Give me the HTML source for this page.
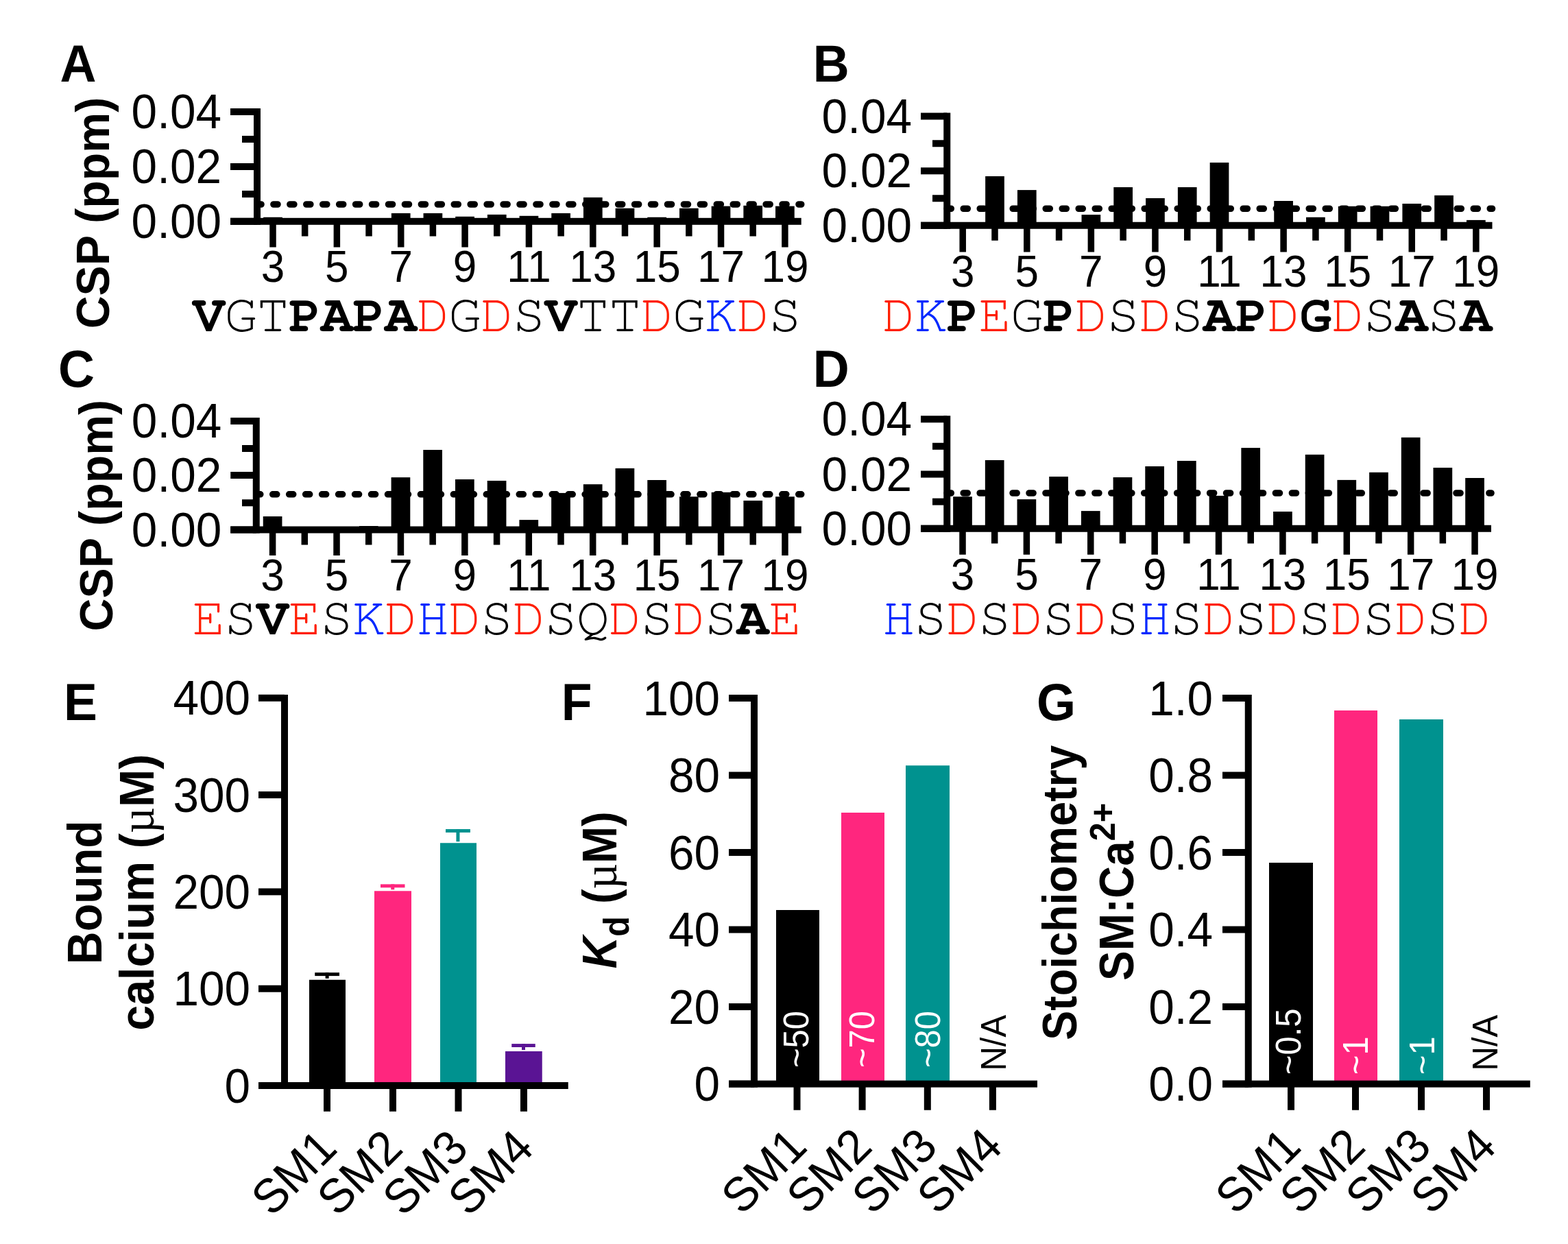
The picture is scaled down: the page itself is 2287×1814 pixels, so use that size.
<!DOCTYPE html>
<html><head><meta charset="utf-8"><title>Figure</title>
<style>html,body{margin:0;padding:0;background:#fff;} svg{display:block;}</style>
</head><body>
<svg width="2287" height="1814" viewBox="0 0 2287 1814">
<rect x="0" y="0" width="2287" height="1814" fill="#fff"/>
<rect x="384.15" y="316.75" width="27.70" height="6.05" fill="#000"/>
<rect x="570.87" y="310.90" width="27.70" height="11.90" fill="#000"/>
<rect x="617.55" y="310.90" width="27.70" height="11.90" fill="#000"/>
<rect x="664.23" y="315.80" width="27.70" height="7.00" fill="#000"/>
<rect x="710.91" y="312.90" width="27.70" height="9.90" fill="#000"/>
<rect x="757.59" y="314.80" width="27.70" height="8.00" fill="#000"/>
<rect x="804.27" y="310.90" width="27.70" height="11.90" fill="#000"/>
<rect x="850.95" y="287.90" width="27.70" height="34.90" fill="#000"/>
<rect x="897.63" y="303.70" width="27.70" height="19.10" fill="#000"/>
<rect x="944.31" y="316.75" width="27.70" height="6.05" fill="#000"/>
<rect x="990.99" y="303.70" width="27.70" height="19.10" fill="#000"/>
<rect x="1037.67" y="300.60" width="27.70" height="22.20" fill="#000"/>
<rect x="1084.35" y="299.80" width="27.70" height="23.00" fill="#000"/>
<rect x="1131.03" y="300.60" width="27.70" height="22.20" fill="#000"/>
<line x1="375.00" y1="298.00" x2="1168.70" y2="298.00" stroke="#000" stroke-width="9.6" stroke-linecap="round" stroke-dasharray="6 17.94"/>
<rect x="370.00" y="158.00" width="10.00" height="169.80" fill="#000"/>
<rect x="336.00" y="317.80" width="39.00" height="10.00" fill="#000"/>
<rect x="353.00" y="278.00" width="22.00" height="10.00" fill="#000"/>
<rect x="336.00" y="238.00" width="39.00" height="10.00" fill="#000"/>
<rect x="353.00" y="198.00" width="22.00" height="10.00" fill="#000"/>
<rect x="336.00" y="158.00" width="39.00" height="10.00" fill="#000"/>
<rect x="336.00" y="317.80" width="832.70" height="10.00" fill="#000"/>
<rect x="393.25" y="322.80" width="9.50" height="37.70" fill="#000"/>
<rect x="439.93" y="322.80" width="9.50" height="21.70" fill="#000"/>
<rect x="486.61" y="322.80" width="9.50" height="37.70" fill="#000"/>
<rect x="533.29" y="322.80" width="9.50" height="21.70" fill="#000"/>
<rect x="579.97" y="322.80" width="9.50" height="37.70" fill="#000"/>
<rect x="626.65" y="322.80" width="9.50" height="21.70" fill="#000"/>
<rect x="673.33" y="322.80" width="9.50" height="37.70" fill="#000"/>
<rect x="720.01" y="322.80" width="9.50" height="21.70" fill="#000"/>
<rect x="766.69" y="322.80" width="9.50" height="37.70" fill="#000"/>
<rect x="813.37" y="322.80" width="9.50" height="21.70" fill="#000"/>
<rect x="860.05" y="322.80" width="9.50" height="37.70" fill="#000"/>
<rect x="906.73" y="322.80" width="9.50" height="21.70" fill="#000"/>
<rect x="953.41" y="322.80" width="9.50" height="37.70" fill="#000"/>
<rect x="1000.09" y="322.80" width="9.50" height="21.70" fill="#000"/>
<rect x="1046.77" y="322.80" width="9.50" height="37.70" fill="#000"/>
<rect x="1093.45" y="322.80" width="9.50" height="21.70" fill="#000"/>
<rect x="1140.13" y="322.80" width="9.50" height="37.70" fill="#000"/>
<text transform="translate(323.00,347.00) scale(1,1.04)" font-family="'Liberation Sans', Arial, sans-serif" font-size="67.5" font-weight="normal" font-style="normal" text-anchor="end" fill="#000">0.00</text>
<text transform="translate(323.00,267.20) scale(1,1.04)" font-family="'Liberation Sans', Arial, sans-serif" font-size="67.5" font-weight="normal" font-style="normal" text-anchor="end" fill="#000">0.02</text>
<text transform="translate(323.00,187.20) scale(1,1.04)" font-family="'Liberation Sans', Arial, sans-serif" font-size="67.5" font-weight="normal" font-style="normal" text-anchor="end" fill="#000">0.04</text>
<text transform="translate(398.00,411.20) scale(1,1.04)" font-family="'Liberation Sans', Arial, sans-serif" font-size="62" font-weight="normal" font-style="normal" text-anchor="middle" fill="#000">3</text>
<text transform="translate(491.36,411.20) scale(1,1.04)" font-family="'Liberation Sans', Arial, sans-serif" font-size="62" font-weight="normal" font-style="normal" text-anchor="middle" fill="#000">5</text>
<text transform="translate(584.72,411.20) scale(1,1.04)" font-family="'Liberation Sans', Arial, sans-serif" font-size="62" font-weight="normal" font-style="normal" text-anchor="middle" fill="#000">7</text>
<text transform="translate(678.08,411.20) scale(1,1.04)" font-family="'Liberation Sans', Arial, sans-serif" font-size="62" font-weight="normal" font-style="normal" text-anchor="middle" fill="#000">9</text>
<text transform="translate(771.44,411.20) scale(1,1.04)" font-family="'Liberation Sans', Arial, sans-serif" font-size="62" font-weight="normal" font-style="normal" text-anchor="middle" fill="#000">11</text>
<text transform="translate(864.80,411.20) scale(1,1.04)" font-family="'Liberation Sans', Arial, sans-serif" font-size="62" font-weight="normal" font-style="normal" text-anchor="middle" fill="#000">13</text>
<text transform="translate(958.16,411.20) scale(1,1.04)" font-family="'Liberation Sans', Arial, sans-serif" font-size="62" font-weight="normal" font-style="normal" text-anchor="middle" fill="#000">15</text>
<text transform="translate(1051.52,411.20) scale(1,1.04)" font-family="'Liberation Sans', Arial, sans-serif" font-size="62" font-weight="normal" font-style="normal" text-anchor="middle" fill="#000">17</text>
<text transform="translate(1144.88,411.20) scale(1,1.04)" font-family="'Liberation Sans', Arial, sans-serif" font-size="62" font-weight="normal" font-style="normal" text-anchor="middle" fill="#000">19</text>
<text transform="translate(158.80,310.50) rotate(-90) scale(1,1.04)" font-family="'Liberation Sans', Arial, sans-serif" font-size="66.3" font-weight="bold" font-style="normal" text-anchor="middle" fill="#000">CSP (ppm)</text>
<text transform="translate(87.40,118.75) scale(1,1.04)" font-family="'Liberation Sans', Arial, sans-serif" font-size="73.3" font-weight="bold" font-style="normal" text-anchor="start" fill="#000">A</text>
<text x="304.64 351.32 398.00 444.68 491.36 538.04 584.72 631.40 678.08 724.76 771.44 818.12 864.80 911.48 958.16 1004.84 1051.52 1098.20 1144.88" y="482.50" font-family="'TeX Gyre Cursor', 'Liberation Mono', 'Courier New', monospace" font-size="79" text-anchor="middle" style="font-size-adjust:cap-height 0.57"><tspan fill="#000" font-weight="bold">V</tspan><tspan fill="#000" font-weight="normal">G</tspan><tspan fill="#000" font-weight="normal">T</tspan><tspan fill="#000" font-weight="bold">P</tspan><tspan fill="#000" font-weight="bold">A</tspan><tspan fill="#000" font-weight="bold">P</tspan><tspan fill="#000" font-weight="bold">A</tspan><tspan fill="#FF1E00" font-weight="normal">D</tspan><tspan fill="#000" font-weight="normal">G</tspan><tspan fill="#FF1E00" font-weight="normal">D</tspan><tspan fill="#000" font-weight="normal">S</tspan><tspan fill="#000" font-weight="bold">V</tspan><tspan fill="#000" font-weight="normal">T</tspan><tspan fill="#000" font-weight="normal">T</tspan><tspan fill="#FF1E00" font-weight="normal">D</tspan><tspan fill="#000" font-weight="normal">G</tspan><tspan fill="#0028FF" font-weight="normal">K</tspan><tspan fill="#FF1E00" font-weight="normal">D</tspan><tspan fill="#000" font-weight="normal">S</tspan></text>
<rect x="1437.14" y="257.00" width="27.70" height="71.75" fill="#000"/>
<rect x="1483.93" y="277.10" width="27.70" height="51.65" fill="#000"/>
<rect x="1577.51" y="313.10" width="27.70" height="15.65" fill="#000"/>
<rect x="1624.30" y="273.00" width="27.70" height="55.75" fill="#000"/>
<rect x="1671.09" y="289.00" width="27.70" height="39.75" fill="#000"/>
<rect x="1717.88" y="273.00" width="27.70" height="55.75" fill="#000"/>
<rect x="1764.67" y="237.10" width="27.70" height="91.65" fill="#000"/>
<rect x="1858.25" y="293.00" width="27.70" height="35.75" fill="#000"/>
<rect x="1905.04" y="316.80" width="27.70" height="11.95" fill="#000"/>
<rect x="1951.83" y="300.80" width="27.70" height="27.95" fill="#000"/>
<rect x="1998.62" y="300.80" width="27.70" height="27.95" fill="#000"/>
<rect x="2045.41" y="297.00" width="27.70" height="31.75" fill="#000"/>
<rect x="2092.20" y="284.90" width="27.70" height="43.85" fill="#000"/>
<rect x="2138.99" y="320.90" width="27.70" height="7.85" fill="#000"/>
<line x1="1381.25" y1="304.25" x2="2176.50" y2="304.25" stroke="#000" stroke-width="9.6" stroke-linecap="round" stroke-dasharray="6 18.00"/>
<rect x="1376.25" y="164.50" width="10.00" height="169.25" fill="#000"/>
<rect x="1343.00" y="323.75" width="38.25" height="10.00" fill="#000"/>
<rect x="1360.00" y="284.25" width="21.25" height="10.00" fill="#000"/>
<rect x="1343.00" y="244.25" width="38.25" height="10.00" fill="#000"/>
<rect x="1360.00" y="204.25" width="21.25" height="10.00" fill="#000"/>
<rect x="1343.00" y="164.50" width="38.25" height="10.00" fill="#000"/>
<rect x="1343.00" y="323.75" width="833.50" height="10.00" fill="#000"/>
<rect x="1399.45" y="328.75" width="9.50" height="38.75" fill="#000"/>
<rect x="1446.24" y="328.75" width="9.50" height="22.00" fill="#000"/>
<rect x="1493.03" y="328.75" width="9.50" height="38.75" fill="#000"/>
<rect x="1539.82" y="328.75" width="9.50" height="22.00" fill="#000"/>
<rect x="1586.61" y="328.75" width="9.50" height="38.75" fill="#000"/>
<rect x="1633.40" y="328.75" width="9.50" height="22.00" fill="#000"/>
<rect x="1680.19" y="328.75" width="9.50" height="38.75" fill="#000"/>
<rect x="1726.98" y="328.75" width="9.50" height="22.00" fill="#000"/>
<rect x="1773.77" y="328.75" width="9.50" height="38.75" fill="#000"/>
<rect x="1820.56" y="328.75" width="9.50" height="22.00" fill="#000"/>
<rect x="1867.35" y="328.75" width="9.50" height="38.75" fill="#000"/>
<rect x="1914.14" y="328.75" width="9.50" height="22.00" fill="#000"/>
<rect x="1960.93" y="328.75" width="9.50" height="38.75" fill="#000"/>
<rect x="2007.72" y="328.75" width="9.50" height="22.00" fill="#000"/>
<rect x="2054.51" y="328.75" width="9.50" height="38.75" fill="#000"/>
<rect x="2101.30" y="328.75" width="9.50" height="22.00" fill="#000"/>
<rect x="2148.09" y="328.75" width="9.50" height="38.75" fill="#000"/>
<text transform="translate(1330.00,352.95) scale(1,1.04)" font-family="'Liberation Sans', Arial, sans-serif" font-size="67.5" font-weight="normal" font-style="normal" text-anchor="end" fill="#000">0.00</text>
<text transform="translate(1330.00,273.45) scale(1,1.04)" font-family="'Liberation Sans', Arial, sans-serif" font-size="67.5" font-weight="normal" font-style="normal" text-anchor="end" fill="#000">0.02</text>
<text transform="translate(1330.00,193.70) scale(1,1.04)" font-family="'Liberation Sans', Arial, sans-serif" font-size="67.5" font-weight="normal" font-style="normal" text-anchor="end" fill="#000">0.04</text>
<text transform="translate(1404.20,418.20) scale(1,1.04)" font-family="'Liberation Sans', Arial, sans-serif" font-size="62" font-weight="normal" font-style="normal" text-anchor="middle" fill="#000">3</text>
<text transform="translate(1497.78,418.20) scale(1,1.04)" font-family="'Liberation Sans', Arial, sans-serif" font-size="62" font-weight="normal" font-style="normal" text-anchor="middle" fill="#000">5</text>
<text transform="translate(1591.36,418.20) scale(1,1.04)" font-family="'Liberation Sans', Arial, sans-serif" font-size="62" font-weight="normal" font-style="normal" text-anchor="middle" fill="#000">7</text>
<text transform="translate(1684.94,418.20) scale(1,1.04)" font-family="'Liberation Sans', Arial, sans-serif" font-size="62" font-weight="normal" font-style="normal" text-anchor="middle" fill="#000">9</text>
<text transform="translate(1778.52,418.20) scale(1,1.04)" font-family="'Liberation Sans', Arial, sans-serif" font-size="62" font-weight="normal" font-style="normal" text-anchor="middle" fill="#000">11</text>
<text transform="translate(1872.10,418.20) scale(1,1.04)" font-family="'Liberation Sans', Arial, sans-serif" font-size="62" font-weight="normal" font-style="normal" text-anchor="middle" fill="#000">13</text>
<text transform="translate(1965.68,418.20) scale(1,1.04)" font-family="'Liberation Sans', Arial, sans-serif" font-size="62" font-weight="normal" font-style="normal" text-anchor="middle" fill="#000">15</text>
<text transform="translate(2059.26,418.20) scale(1,1.04)" font-family="'Liberation Sans', Arial, sans-serif" font-size="62" font-weight="normal" font-style="normal" text-anchor="middle" fill="#000">17</text>
<text transform="translate(2152.84,418.20) scale(1,1.04)" font-family="'Liberation Sans', Arial, sans-serif" font-size="62" font-weight="normal" font-style="normal" text-anchor="middle" fill="#000">19</text>
<text transform="translate(1185.80,118.75) scale(1,1.04)" font-family="'Liberation Sans', Arial, sans-serif" font-size="73.3" font-weight="bold" font-style="normal" text-anchor="start" fill="#000">B</text>
<text x="1310.62 1357.41 1404.20 1450.99 1497.78 1544.57 1591.36 1638.15 1684.94 1731.73 1778.52 1825.31 1872.10 1918.89 1965.68 2012.47 2059.26 2106.05 2152.84" y="482.50" font-family="'TeX Gyre Cursor', 'Liberation Mono', 'Courier New', monospace" font-size="79" text-anchor="middle" style="font-size-adjust:cap-height 0.57"><tspan fill="#FF1E00" font-weight="normal">D</tspan><tspan fill="#0028FF" font-weight="normal">K</tspan><tspan fill="#000" font-weight="bold">P</tspan><tspan fill="#FF1E00" font-weight="normal">E</tspan><tspan fill="#000" font-weight="normal">G</tspan><tspan fill="#000" font-weight="bold">P</tspan><tspan fill="#FF1E00" font-weight="normal">D</tspan><tspan fill="#000" font-weight="normal">S</tspan><tspan fill="#FF1E00" font-weight="normal">D</tspan><tspan fill="#000" font-weight="normal">S</tspan><tspan fill="#000" font-weight="bold">A</tspan><tspan fill="#000" font-weight="bold">P</tspan><tspan fill="#FF1E00" font-weight="normal">D</tspan><tspan fill="#000" font-weight="bold">G</tspan><tspan fill="#FF1E00" font-weight="normal">D</tspan><tspan fill="#000" font-weight="normal">S</tspan><tspan fill="#000" font-weight="bold">A</tspan><tspan fill="#000" font-weight="normal">S</tspan><tspan fill="#000" font-weight="bold">A</tspan></text>
<rect x="383.75" y="753.00" width="27.70" height="19.50" fill="#000"/>
<rect x="523.88" y="767.00" width="27.70" height="5.50" fill="#000"/>
<rect x="570.59" y="696.10" width="27.70" height="76.40" fill="#000"/>
<rect x="617.30" y="656.00" width="27.70" height="116.50" fill="#000"/>
<rect x="664.01" y="699.00" width="27.70" height="73.50" fill="#000"/>
<rect x="710.72" y="701.00" width="27.70" height="71.50" fill="#000"/>
<rect x="757.43" y="758.10" width="27.70" height="14.40" fill="#000"/>
<rect x="804.14" y="718.90" width="27.70" height="53.60" fill="#000"/>
<rect x="850.85" y="706.20" width="27.70" height="66.30" fill="#000"/>
<rect x="897.56" y="682.90" width="27.70" height="89.60" fill="#000"/>
<rect x="944.27" y="700.00" width="27.70" height="72.50" fill="#000"/>
<rect x="990.98" y="724.20" width="27.70" height="48.30" fill="#000"/>
<rect x="1037.69" y="717.90" width="27.70" height="54.60" fill="#000"/>
<rect x="1084.40" y="730.00" width="27.70" height="42.50" fill="#000"/>
<rect x="1131.11" y="724.20" width="27.70" height="48.30" fill="#000"/>
<line x1="373.75" y1="720.80" x2="1168.70" y2="720.80" stroke="#000" stroke-width="9.6" stroke-linecap="round" stroke-dasharray="6 17.97"/>
<rect x="368.75" y="609.00" width="10.00" height="168.50" fill="#000"/>
<rect x="336.25" y="767.50" width="37.50" height="10.00" fill="#000"/>
<rect x="353.00" y="728.25" width="20.75" height="10.00" fill="#000"/>
<rect x="336.25" y="688.00" width="37.50" height="10.00" fill="#000"/>
<rect x="353.00" y="649.00" width="20.75" height="10.00" fill="#000"/>
<rect x="336.25" y="609.00" width="37.50" height="10.00" fill="#000"/>
<rect x="336.25" y="767.50" width="832.45" height="10.00" fill="#000"/>
<rect x="392.85" y="772.50" width="9.50" height="37.50" fill="#000"/>
<rect x="439.56" y="772.50" width="9.50" height="22.00" fill="#000"/>
<rect x="486.27" y="772.50" width="9.50" height="37.50" fill="#000"/>
<rect x="532.98" y="772.50" width="9.50" height="22.00" fill="#000"/>
<rect x="579.69" y="772.50" width="9.50" height="37.50" fill="#000"/>
<rect x="626.40" y="772.50" width="9.50" height="22.00" fill="#000"/>
<rect x="673.11" y="772.50" width="9.50" height="37.50" fill="#000"/>
<rect x="719.82" y="772.50" width="9.50" height="22.00" fill="#000"/>
<rect x="766.53" y="772.50" width="9.50" height="37.50" fill="#000"/>
<rect x="813.24" y="772.50" width="9.50" height="22.00" fill="#000"/>
<rect x="859.95" y="772.50" width="9.50" height="37.50" fill="#000"/>
<rect x="906.66" y="772.50" width="9.50" height="22.00" fill="#000"/>
<rect x="953.37" y="772.50" width="9.50" height="37.50" fill="#000"/>
<rect x="1000.08" y="772.50" width="9.50" height="22.00" fill="#000"/>
<rect x="1046.79" y="772.50" width="9.50" height="37.50" fill="#000"/>
<rect x="1093.50" y="772.50" width="9.50" height="22.00" fill="#000"/>
<rect x="1140.21" y="772.50" width="9.50" height="37.50" fill="#000"/>
<text transform="translate(323.25,796.70) scale(1,1.04)" font-family="'Liberation Sans', Arial, sans-serif" font-size="67.5" font-weight="normal" font-style="normal" text-anchor="end" fill="#000">0.00</text>
<text transform="translate(323.25,717.20) scale(1,1.04)" font-family="'Liberation Sans', Arial, sans-serif" font-size="67.5" font-weight="normal" font-style="normal" text-anchor="end" fill="#000">0.02</text>
<text transform="translate(323.25,638.20) scale(1,1.04)" font-family="'Liberation Sans', Arial, sans-serif" font-size="67.5" font-weight="normal" font-style="normal" text-anchor="end" fill="#000">0.04</text>
<text transform="translate(397.60,861.00) scale(1,1.04)" font-family="'Liberation Sans', Arial, sans-serif" font-size="62" font-weight="normal" font-style="normal" text-anchor="middle" fill="#000">3</text>
<text transform="translate(491.02,861.00) scale(1,1.04)" font-family="'Liberation Sans', Arial, sans-serif" font-size="62" font-weight="normal" font-style="normal" text-anchor="middle" fill="#000">5</text>
<text transform="translate(584.44,861.00) scale(1,1.04)" font-family="'Liberation Sans', Arial, sans-serif" font-size="62" font-weight="normal" font-style="normal" text-anchor="middle" fill="#000">7</text>
<text transform="translate(677.86,861.00) scale(1,1.04)" font-family="'Liberation Sans', Arial, sans-serif" font-size="62" font-weight="normal" font-style="normal" text-anchor="middle" fill="#000">9</text>
<text transform="translate(771.28,861.00) scale(1,1.04)" font-family="'Liberation Sans', Arial, sans-serif" font-size="62" font-weight="normal" font-style="normal" text-anchor="middle" fill="#000">11</text>
<text transform="translate(864.70,861.00) scale(1,1.04)" font-family="'Liberation Sans', Arial, sans-serif" font-size="62" font-weight="normal" font-style="normal" text-anchor="middle" fill="#000">13</text>
<text transform="translate(958.12,861.00) scale(1,1.04)" font-family="'Liberation Sans', Arial, sans-serif" font-size="62" font-weight="normal" font-style="normal" text-anchor="middle" fill="#000">15</text>
<text transform="translate(1051.54,861.00) scale(1,1.04)" font-family="'Liberation Sans', Arial, sans-serif" font-size="62" font-weight="normal" font-style="normal" text-anchor="middle" fill="#000">17</text>
<text transform="translate(1144.96,861.00) scale(1,1.04)" font-family="'Liberation Sans', Arial, sans-serif" font-size="62" font-weight="normal" font-style="normal" text-anchor="middle" fill="#000">19</text>
<text transform="translate(163.70,751.60) rotate(-90) scale(1,1.04)" font-family="'Liberation Sans', Arial, sans-serif" font-size="66.3" font-weight="bold" font-style="normal" text-anchor="middle" fill="#000">CSP (ppm)</text>
<text transform="translate(85.00,564.25) scale(1,1.04)" font-family="'Liberation Sans', Arial, sans-serif" font-size="73.3" font-weight="bold" font-style="normal" text-anchor="start" fill="#000">C</text>
<text x="304.18 350.89 397.60 444.31 491.02 537.73 584.44 631.15 677.86 724.57 771.28 817.99 864.70 911.41 958.12 1004.83 1051.54 1098.25 1144.96" y="925.00" font-family="'TeX Gyre Cursor', 'Liberation Mono', 'Courier New', monospace" font-size="79" text-anchor="middle" style="font-size-adjust:cap-height 0.57"><tspan fill="#FF1E00" font-weight="normal">E</tspan><tspan fill="#000" font-weight="normal">S</tspan><tspan fill="#000" font-weight="bold">V</tspan><tspan fill="#FF1E00" font-weight="normal">E</tspan><tspan fill="#000" font-weight="normal">S</tspan><tspan fill="#0028FF" font-weight="normal">K</tspan><tspan fill="#FF1E00" font-weight="normal">D</tspan><tspan fill="#0028FF" font-weight="normal">H</tspan><tspan fill="#FF1E00" font-weight="normal">D</tspan><tspan fill="#000" font-weight="normal">S</tspan><tspan fill="#FF1E00" font-weight="normal">D</tspan><tspan fill="#000" font-weight="normal">S</tspan><tspan fill="#000" font-weight="normal">Q</tspan><tspan fill="#FF1E00" font-weight="normal">D</tspan><tspan fill="#000" font-weight="normal">S</tspan><tspan fill="#FF1E00" font-weight="normal">D</tspan><tspan fill="#000" font-weight="normal">S</tspan><tspan fill="#000" font-weight="bold">A</tspan><tspan fill="#FF1E00" font-weight="normal">E</tspan></text>
<rect x="1390.15" y="724.20" width="27.70" height="46.55" fill="#000"/>
<rect x="1436.84" y="671.00" width="27.70" height="99.75" fill="#000"/>
<rect x="1483.53" y="728.10" width="27.70" height="42.65" fill="#000"/>
<rect x="1530.22" y="695.00" width="27.70" height="75.75" fill="#000"/>
<rect x="1576.91" y="745.10" width="27.70" height="25.65" fill="#000"/>
<rect x="1623.60" y="696.00" width="27.70" height="74.75" fill="#000"/>
<rect x="1670.29" y="680.00" width="27.70" height="90.75" fill="#000"/>
<rect x="1716.98" y="672.00" width="27.70" height="98.75" fill="#000"/>
<rect x="1763.67" y="722.90" width="27.70" height="47.85" fill="#000"/>
<rect x="1810.36" y="653.10" width="27.70" height="117.65" fill="#000"/>
<rect x="1857.05" y="746.00" width="27.70" height="24.75" fill="#000"/>
<rect x="1903.74" y="662.90" width="27.70" height="107.85" fill="#000"/>
<rect x="1950.43" y="699.90" width="27.70" height="70.85" fill="#000"/>
<rect x="1997.12" y="688.80" width="27.70" height="81.95" fill="#000"/>
<rect x="2043.81" y="637.90" width="27.70" height="132.85" fill="#000"/>
<rect x="2090.50" y="682.00" width="27.70" height="88.75" fill="#000"/>
<rect x="2137.19" y="697.00" width="27.70" height="73.75" fill="#000"/>
<line x1="1381.25" y1="719.00" x2="2175.00" y2="719.00" stroke="#000" stroke-width="9.6" stroke-linecap="round" stroke-dasharray="6 17.96"/>
<rect x="1376.25" y="606.25" width="10.00" height="169.50" fill="#000"/>
<rect x="1343.00" y="765.75" width="38.25" height="10.00" fill="#000"/>
<rect x="1360.00" y="726.60" width="21.25" height="10.00" fill="#000"/>
<rect x="1343.00" y="686.50" width="38.25" height="10.00" fill="#000"/>
<rect x="1360.00" y="645.75" width="21.25" height="10.00" fill="#000"/>
<rect x="1343.00" y="606.25" width="38.25" height="10.00" fill="#000"/>
<rect x="1343.00" y="765.75" width="832.00" height="10.00" fill="#000"/>
<rect x="1399.25" y="770.75" width="9.50" height="38.00" fill="#000"/>
<rect x="1445.94" y="770.75" width="9.50" height="21.75" fill="#000"/>
<rect x="1492.63" y="770.75" width="9.50" height="38.00" fill="#000"/>
<rect x="1539.32" y="770.75" width="9.50" height="21.75" fill="#000"/>
<rect x="1586.01" y="770.75" width="9.50" height="38.00" fill="#000"/>
<rect x="1632.70" y="770.75" width="9.50" height="21.75" fill="#000"/>
<rect x="1679.39" y="770.75" width="9.50" height="38.00" fill="#000"/>
<rect x="1726.08" y="770.75" width="9.50" height="21.75" fill="#000"/>
<rect x="1772.77" y="770.75" width="9.50" height="38.00" fill="#000"/>
<rect x="1819.46" y="770.75" width="9.50" height="21.75" fill="#000"/>
<rect x="1866.15" y="770.75" width="9.50" height="38.00" fill="#000"/>
<rect x="1912.84" y="770.75" width="9.50" height="21.75" fill="#000"/>
<rect x="1959.53" y="770.75" width="9.50" height="38.00" fill="#000"/>
<rect x="2006.22" y="770.75" width="9.50" height="21.75" fill="#000"/>
<rect x="2052.91" y="770.75" width="9.50" height="38.00" fill="#000"/>
<rect x="2099.60" y="770.75" width="9.50" height="21.75" fill="#000"/>
<rect x="2146.29" y="770.75" width="9.50" height="38.00" fill="#000"/>
<text transform="translate(1330.00,794.95) scale(1,1.04)" font-family="'Liberation Sans', Arial, sans-serif" font-size="67.5" font-weight="normal" font-style="normal" text-anchor="end" fill="#000">0.00</text>
<text transform="translate(1330.00,715.70) scale(1,1.04)" font-family="'Liberation Sans', Arial, sans-serif" font-size="67.5" font-weight="normal" font-style="normal" text-anchor="end" fill="#000">0.02</text>
<text transform="translate(1330.00,635.45) scale(1,1.04)" font-family="'Liberation Sans', Arial, sans-serif" font-size="67.5" font-weight="normal" font-style="normal" text-anchor="end" fill="#000">0.04</text>
<text transform="translate(1404.00,859.50) scale(1,1.04)" font-family="'Liberation Sans', Arial, sans-serif" font-size="62" font-weight="normal" font-style="normal" text-anchor="middle" fill="#000">3</text>
<text transform="translate(1497.38,859.50) scale(1,1.04)" font-family="'Liberation Sans', Arial, sans-serif" font-size="62" font-weight="normal" font-style="normal" text-anchor="middle" fill="#000">5</text>
<text transform="translate(1590.76,859.50) scale(1,1.04)" font-family="'Liberation Sans', Arial, sans-serif" font-size="62" font-weight="normal" font-style="normal" text-anchor="middle" fill="#000">7</text>
<text transform="translate(1684.14,859.50) scale(1,1.04)" font-family="'Liberation Sans', Arial, sans-serif" font-size="62" font-weight="normal" font-style="normal" text-anchor="middle" fill="#000">9</text>
<text transform="translate(1777.52,859.50) scale(1,1.04)" font-family="'Liberation Sans', Arial, sans-serif" font-size="62" font-weight="normal" font-style="normal" text-anchor="middle" fill="#000">11</text>
<text transform="translate(1870.90,859.50) scale(1,1.04)" font-family="'Liberation Sans', Arial, sans-serif" font-size="62" font-weight="normal" font-style="normal" text-anchor="middle" fill="#000">13</text>
<text transform="translate(1964.28,859.50) scale(1,1.04)" font-family="'Liberation Sans', Arial, sans-serif" font-size="62" font-weight="normal" font-style="normal" text-anchor="middle" fill="#000">15</text>
<text transform="translate(2057.66,859.50) scale(1,1.04)" font-family="'Liberation Sans', Arial, sans-serif" font-size="62" font-weight="normal" font-style="normal" text-anchor="middle" fill="#000">17</text>
<text transform="translate(2151.04,859.50) scale(1,1.04)" font-family="'Liberation Sans', Arial, sans-serif" font-size="62" font-weight="normal" font-style="normal" text-anchor="middle" fill="#000">19</text>
<text transform="translate(1185.80,564.25) scale(1,1.04)" font-family="'Liberation Sans', Arial, sans-serif" font-size="73.3" font-weight="bold" font-style="normal" text-anchor="start" fill="#000">D</text>
<text x="1310.62 1357.31 1404.00 1450.69 1497.38 1544.07 1590.76 1637.45 1684.14 1730.83 1777.52 1824.21 1870.90 1917.59 1964.28 2010.97 2057.66 2104.35 2151.04" y="924.50" font-family="'TeX Gyre Cursor', 'Liberation Mono', 'Courier New', monospace" font-size="79" text-anchor="middle" style="font-size-adjust:cap-height 0.57"><tspan fill="#0028FF" font-weight="normal">H</tspan><tspan fill="#000" font-weight="normal">S</tspan><tspan fill="#FF1E00" font-weight="normal">D</tspan><tspan fill="#000" font-weight="normal">S</tspan><tspan fill="#FF1E00" font-weight="normal">D</tspan><tspan fill="#000" font-weight="normal">S</tspan><tspan fill="#FF1E00" font-weight="normal">D</tspan><tspan fill="#000" font-weight="normal">S</tspan><tspan fill="#0028FF" font-weight="normal">H</tspan><tspan fill="#000" font-weight="normal">S</tspan><tspan fill="#FF1E00" font-weight="normal">D</tspan><tspan fill="#000" font-weight="normal">S</tspan><tspan fill="#FF1E00" font-weight="normal">D</tspan><tspan fill="#000" font-weight="normal">S</tspan><tspan fill="#FF1E00" font-weight="normal">D</tspan><tspan fill="#000" font-weight="normal">S</tspan><tspan fill="#FF1E00" font-weight="normal">D</tspan><tspan fill="#000" font-weight="normal">S</tspan><tspan fill="#FF1E00" font-weight="normal">D</tspan></text>
<rect x="451.00" y="1428.75" width="53.00" height="154.25" fill="#000"/>
<rect x="546.00" y="1299.25" width="54.00" height="283.75" fill="#FF267E"/>
<rect x="642.00" y="1229.25" width="53.00" height="353.75" fill="#00928F"/>
<rect x="737.00" y="1533.00" width="53.75" height="50.00" fill="#5A1494"/>
<rect x="459.25" y="1418.20" width="35.75" height="4.90" fill="#000"/>
<rect x="474.62" y="1418.20" width="5.00" height="8.55" fill="#000"/>
<rect x="555.00" y="1289.40" width="35.50" height="4.90" fill="#FF267E"/>
<rect x="570.25" y="1289.40" width="5.00" height="7.85" fill="#FF267E"/>
<rect x="650.00" y="1209.05" width="35.90" height="4.90" fill="#00928F"/>
<rect x="665.45" y="1209.05" width="5.00" height="18.20" fill="#00928F"/>
<rect x="746.25" y="1522.10" width="34.50" height="4.90" fill="#5A1494"/>
<rect x="761.00" y="1522.10" width="5.00" height="8.90" fill="#5A1494"/>
<rect x="410.00" y="1013.00" width="10.00" height="575.00" fill="#000"/>
<rect x="377.00" y="1578.00" width="38.00" height="10.00" fill="#000"/>
<rect x="377.00" y="1436.70" width="38.00" height="10.00" fill="#000"/>
<rect x="377.00" y="1295.40" width="38.00" height="10.00" fill="#000"/>
<rect x="377.00" y="1154.10" width="38.00" height="10.00" fill="#000"/>
<rect x="377.00" y="1012.80" width="38.00" height="10.00" fill="#000"/>
<rect x="377.00" y="1578.00" width="451.75" height="10.00" fill="#000"/>
<rect x="472.00" y="1583.00" width="10.00" height="37.75" fill="#000"/>
<rect x="568.00" y="1583.00" width="10.00" height="37.75" fill="#000"/>
<rect x="663.50" y="1583.00" width="10.00" height="37.75" fill="#000"/>
<rect x="759.00" y="1583.00" width="10.00" height="37.75" fill="#000"/>
<text transform="translate(365.00,1607.50) scale(1,1.04)" font-family="'Liberation Sans', Arial, sans-serif" font-size="67.5" font-weight="normal" font-style="normal" text-anchor="end" fill="#000">0</text>
<text transform="translate(365.00,1466.20) scale(1,1.04)" font-family="'Liberation Sans', Arial, sans-serif" font-size="67.5" font-weight="normal" font-style="normal" text-anchor="end" fill="#000">100</text>
<text transform="translate(365.00,1324.90) scale(1,1.04)" font-family="'Liberation Sans', Arial, sans-serif" font-size="67.5" font-weight="normal" font-style="normal" text-anchor="end" fill="#000">200</text>
<text transform="translate(365.00,1183.60) scale(1,1.04)" font-family="'Liberation Sans', Arial, sans-serif" font-size="67.5" font-weight="normal" font-style="normal" text-anchor="end" fill="#000">300</text>
<text transform="translate(365.00,1042.30) scale(1,1.04)" font-family="'Liberation Sans', Arial, sans-serif" font-size="67.5" font-weight="normal" font-style="normal" text-anchor="end" fill="#000">400</text>
<text transform="translate(494.50,1677.70) rotate(-45) scale(1,1.04)" font-family="'Liberation Sans', Arial, sans-serif" font-size="67.5" font-weight="normal" font-style="normal" text-anchor="end" fill="#000">SM1</text>
<text transform="translate(590.50,1677.70) rotate(-45) scale(1,1.04)" font-family="'Liberation Sans', Arial, sans-serif" font-size="67.5" font-weight="normal" font-style="normal" text-anchor="end" fill="#000">SM2</text>
<text transform="translate(686.00,1677.70) rotate(-45) scale(1,1.04)" font-family="'Liberation Sans', Arial, sans-serif" font-size="67.5" font-weight="normal" font-style="normal" text-anchor="end" fill="#000">SM3</text>
<text transform="translate(781.50,1677.70) rotate(-45) scale(1,1.04)" font-family="'Liberation Sans', Arial, sans-serif" font-size="67.5" font-weight="normal" font-style="normal" text-anchor="end" fill="#000">SM4</text>
<text transform="translate(93.10,1049.50) scale(1,1.04)" font-family="'Liberation Sans', Arial, sans-serif" font-size="73.3" font-weight="bold" font-style="normal" text-anchor="start" fill="#000">E</text>
<text transform="translate(147.90,1301.20) rotate(-90) scale(0.99,1.04)" font-family="'Liberation Sans', Arial, sans-serif" font-size="67" font-weight="bold" font-style="normal" text-anchor="middle" fill="#000">Bound</text>
<text transform="translate(223.80,1301.20) rotate(-90) scale(0.99,1.04)" font-family="'Liberation Sans', Arial, sans-serif" font-size="67" font-weight="bold" font-style="normal" text-anchor="middle" fill="#000">calcium (<tspan font-family="'Liberation Serif', 'Times New Roman', serif" font-weight="normal">&#181;</tspan>M)</text>
<rect x="1132.00" y="1327.00" width="63.00" height="253.60" fill="#000"/>
<rect x="1227.00" y="1185.00" width="63.00" height="395.60" fill="#FF267E"/>
<rect x="1321.00" y="1116.25" width="64.00" height="464.35" fill="#00928F"/>
<rect x="1095.00" y="1013.00" width="10.00" height="572.60" fill="#000"/>
<rect x="1063.00" y="1575.60" width="37.00" height="10.00" fill="#000"/>
<rect x="1063.00" y="1463.08" width="37.00" height="10.00" fill="#000"/>
<rect x="1063.00" y="1350.56" width="37.00" height="10.00" fill="#000"/>
<rect x="1063.00" y="1238.04" width="37.00" height="10.00" fill="#000"/>
<rect x="1063.00" y="1125.52" width="37.00" height="10.00" fill="#000"/>
<rect x="1063.00" y="1013.00" width="37.00" height="10.00" fill="#000"/>
<rect x="1063.00" y="1575.60" width="450.00" height="10.00" fill="#000"/>
<rect x="1157.50" y="1580.60" width="10.00" height="38.15" fill="#000"/>
<rect x="1252.60" y="1580.60" width="10.00" height="38.15" fill="#000"/>
<rect x="1347.80" y="1580.60" width="10.00" height="38.15" fill="#000"/>
<rect x="1442.90" y="1580.60" width="10.00" height="38.15" fill="#000"/>
<text transform="translate(1050.00,1605.10) scale(1,1.04)" font-family="'Liberation Sans', Arial, sans-serif" font-size="67.5" font-weight="normal" font-style="normal" text-anchor="end" fill="#000">0</text>
<text transform="translate(1050.00,1492.58) scale(1,1.04)" font-family="'Liberation Sans', Arial, sans-serif" font-size="67.5" font-weight="normal" font-style="normal" text-anchor="end" fill="#000">20</text>
<text transform="translate(1050.00,1380.06) scale(1,1.04)" font-family="'Liberation Sans', Arial, sans-serif" font-size="67.5" font-weight="normal" font-style="normal" text-anchor="end" fill="#000">40</text>
<text transform="translate(1050.00,1267.54) scale(1,1.04)" font-family="'Liberation Sans', Arial, sans-serif" font-size="67.5" font-weight="normal" font-style="normal" text-anchor="end" fill="#000">60</text>
<text transform="translate(1050.00,1155.02) scale(1,1.04)" font-family="'Liberation Sans', Arial, sans-serif" font-size="67.5" font-weight="normal" font-style="normal" text-anchor="end" fill="#000">80</text>
<text transform="translate(1050.00,1042.50) scale(1,1.04)" font-family="'Liberation Sans', Arial, sans-serif" font-size="67.5" font-weight="normal" font-style="normal" text-anchor="end" fill="#000">100</text>
<text transform="translate(1180.00,1675.30) rotate(-45) scale(1,1.04)" font-family="'Liberation Sans', Arial, sans-serif" font-size="67.5" font-weight="normal" font-style="normal" text-anchor="end" fill="#000">SM1</text>
<text transform="translate(1275.10,1675.30) rotate(-45) scale(1,1.04)" font-family="'Liberation Sans', Arial, sans-serif" font-size="67.5" font-weight="normal" font-style="normal" text-anchor="end" fill="#000">SM2</text>
<text transform="translate(1370.30,1675.30) rotate(-45) scale(1,1.04)" font-family="'Liberation Sans', Arial, sans-serif" font-size="67.5" font-weight="normal" font-style="normal" text-anchor="end" fill="#000">SM3</text>
<text transform="translate(1465.40,1675.30) rotate(-45) scale(1,1.04)" font-family="'Liberation Sans', Arial, sans-serif" font-size="67.5" font-weight="normal" font-style="normal" text-anchor="end" fill="#000">SM4</text>
<text transform="translate(818.80,1049.50) scale(1,1.04)" font-family="'Liberation Sans', Arial, sans-serif" font-size="73.3" font-weight="bold" font-style="normal" text-anchor="start" fill="#000">F</text>
<text transform="translate(899.00,1412.50) rotate(-90) scale(0.968,1.04)" font-family="'Liberation Sans', Arial, sans-serif" font-size="67" font-weight="bold" font-style="normal" text-anchor="start" fill="#000"><tspan font-style="italic">K</tspan><tspan font-size="50" dy="17.7">d</tspan><tspan dy="-17.7"> (</tspan><tspan font-family="'Liberation Serif', 'Times New Roman', serif" font-weight="normal">&#181;</tspan>M)</text>
<text transform="translate(1178.80,1557.10) rotate(-90) scale(1,1.04)" font-family="'Liberation Sans', Arial, sans-serif" font-size="49" font-weight="normal" font-style="normal" text-anchor="start" fill="#fff">~50</text>
<text transform="translate(1274.50,1557.10) rotate(-90) scale(1,1.04)" font-family="'Liberation Sans', Arial, sans-serif" font-size="49" font-weight="normal" font-style="normal" text-anchor="start" fill="#fff">~70</text>
<text transform="translate(1370.50,1557.10) rotate(-90) scale(1,1.04)" font-family="'Liberation Sans', Arial, sans-serif" font-size="49" font-weight="normal" font-style="normal" text-anchor="start" fill="#fff">~80</text>
<text transform="translate(1467.00,1561.50) rotate(-90) scale(1,1.04)" font-family="'Liberation Sans', Arial, sans-serif" font-size="49" font-weight="normal" font-style="normal" text-anchor="start" fill="#000">N/A</text>
<rect x="1851.00" y="1258.00" width="64.00" height="322.60" fill="#000"/>
<rect x="1946.00" y="1036.00" width="63.00" height="544.60" fill="#FF267E"/>
<rect x="2041.00" y="1049.00" width="64.00" height="531.60" fill="#00928F"/>
<rect x="1815.75" y="1013.00" width="10.00" height="572.60" fill="#000"/>
<rect x="1783.00" y="1575.60" width="37.75" height="10.00" fill="#000"/>
<rect x="1783.00" y="1463.08" width="37.75" height="10.00" fill="#000"/>
<rect x="1783.00" y="1350.56" width="37.75" height="10.00" fill="#000"/>
<rect x="1783.00" y="1238.04" width="37.75" height="10.00" fill="#000"/>
<rect x="1783.00" y="1125.52" width="37.75" height="10.00" fill="#000"/>
<rect x="1783.00" y="1013.00" width="37.75" height="10.00" fill="#000"/>
<rect x="1783.00" y="1575.60" width="448.80" height="10.00" fill="#000"/>
<rect x="1878.00" y="1580.60" width="10.00" height="38.15" fill="#000"/>
<rect x="1972.00" y="1580.60" width="10.00" height="38.15" fill="#000"/>
<rect x="2068.00" y="1580.60" width="10.00" height="38.15" fill="#000"/>
<rect x="2163.00" y="1580.60" width="10.00" height="38.15" fill="#000"/>
<text transform="translate(1769.00,1605.10) scale(1,1.04)" font-family="'Liberation Sans', Arial, sans-serif" font-size="67.5" font-weight="normal" font-style="normal" text-anchor="end" fill="#000">0.0</text>
<text transform="translate(1769.00,1492.58) scale(1,1.04)" font-family="'Liberation Sans', Arial, sans-serif" font-size="67.5" font-weight="normal" font-style="normal" text-anchor="end" fill="#000">0.2</text>
<text transform="translate(1769.00,1380.06) scale(1,1.04)" font-family="'Liberation Sans', Arial, sans-serif" font-size="67.5" font-weight="normal" font-style="normal" text-anchor="end" fill="#000">0.4</text>
<text transform="translate(1769.00,1267.54) scale(1,1.04)" font-family="'Liberation Sans', Arial, sans-serif" font-size="67.5" font-weight="normal" font-style="normal" text-anchor="end" fill="#000">0.6</text>
<text transform="translate(1769.00,1155.02) scale(1,1.04)" font-family="'Liberation Sans', Arial, sans-serif" font-size="67.5" font-weight="normal" font-style="normal" text-anchor="end" fill="#000">0.8</text>
<text transform="translate(1769.00,1042.50) scale(1,1.04)" font-family="'Liberation Sans', Arial, sans-serif" font-size="67.5" font-weight="normal" font-style="normal" text-anchor="end" fill="#000">1.0</text>
<text transform="translate(1900.50,1675.30) rotate(-45) scale(1,1.04)" font-family="'Liberation Sans', Arial, sans-serif" font-size="67.5" font-weight="normal" font-style="normal" text-anchor="end" fill="#000">SM1</text>
<text transform="translate(1994.50,1675.30) rotate(-45) scale(1,1.04)" font-family="'Liberation Sans', Arial, sans-serif" font-size="67.5" font-weight="normal" font-style="normal" text-anchor="end" fill="#000">SM2</text>
<text transform="translate(2090.50,1675.30) rotate(-45) scale(1,1.04)" font-family="'Liberation Sans', Arial, sans-serif" font-size="67.5" font-weight="normal" font-style="normal" text-anchor="end" fill="#000">SM3</text>
<text transform="translate(2185.50,1675.30) rotate(-45) scale(1,1.04)" font-family="'Liberation Sans', Arial, sans-serif" font-size="67.5" font-weight="normal" font-style="normal" text-anchor="end" fill="#000">SM4</text>
<text transform="translate(1512.00,1050.30) scale(1,1.04)" font-family="'Liberation Sans', Arial, sans-serif" font-size="73.3" font-weight="bold" font-style="normal" text-anchor="start" fill="#000">G</text>
<text transform="translate(1570.00,1301.60) rotate(-90) scale(0.963,1.04)" font-family="'Liberation Sans', Arial, sans-serif" font-size="67" font-weight="bold" font-style="normal" text-anchor="middle" fill="#000">Stoichiometry</text>
<text transform="translate(1652.60,1300.40) rotate(-90) scale(0.976,1.04)" font-family="'Liberation Sans', Arial, sans-serif" font-size="67" font-weight="bold" font-style="normal" text-anchor="middle" fill="#000">SM:Ca<tspan font-size="50" dy="-25.6">2+</tspan></text>
<text transform="translate(1897.00,1567.20) rotate(-90) scale(1,1.04)" font-family="'Liberation Sans', Arial, sans-serif" font-size="49" font-weight="normal" font-style="normal" text-anchor="start" fill="#fff">~0.5</text>
<text transform="translate(1995.00,1567.20) rotate(-90) scale(1,1.04)" font-family="'Liberation Sans', Arial, sans-serif" font-size="49" font-weight="normal" font-style="normal" text-anchor="start" fill="#fff">~1</text>
<text transform="translate(2092.00,1567.20) rotate(-90) scale(1,1.04)" font-family="'Liberation Sans', Arial, sans-serif" font-size="49" font-weight="normal" font-style="normal" text-anchor="start" fill="#fff">~1</text>
<text transform="translate(2184.00,1561.40) rotate(-90) scale(1,1.04)" font-family="'Liberation Sans', Arial, sans-serif" font-size="49" font-weight="normal" font-style="normal" text-anchor="start" fill="#000">N/A</text>
</svg>
</body></html>
